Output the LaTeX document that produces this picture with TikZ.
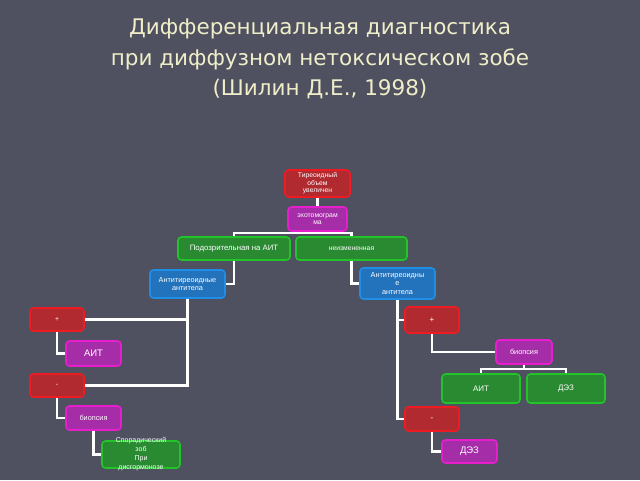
\documentclass[tikz,border=0pt]{standalone}
\usepackage{fontspec}
\setmainfont{Liberation Sans}
\newfontfamily\titlefont{DejaVu Sans}
\definecolor{bgc}{HTML}{4F5161}
\definecolor{titlec}{HTML}{F0EEC8}
\definecolor{redf}{HTML}{B02A30}
\definecolor{redd}{HTML}{EE1C22}
\definecolor{magf}{HTML}{A52DA8}
\definecolor{magd}{HTML}{E61ECC}
\definecolor{grnf}{HTML}{2A8A32}
\definecolor{grnd}{HTML}{22C42A}
\definecolor{bluf}{HTML}{2272BC}
\definecolor{blud}{HTML}{1E8EE6}
\begin{document}
\begin{tikzpicture}[x=1pt,y=-1pt,
  box/.style={rounded corners=3.5pt, line width=1.6pt, inner sep=0pt, text=white, align=center, font=\fontsize{6.8}{7.6}\selectfont},
  redbox/.style={box, fill=redf, draw=redd},
  magbox/.style={box, fill=magf, draw=magd},
  grnbox/.style={box, fill=grnf, draw=grnd},
  blubox/.style={box, fill=bluf, draw=blud},
  conn/.style={draw=white, line width=2.2pt}]
\fill[bgc] (0,0) rectangle (640,480);
\useasboundingbox (0,0) rectangle (640,480);
\node[text=titlec, align=center, font=\titlefont\fontsize{21.5}{30.5}\selectfont] (title) at (320,59) {Дифференциальная диагностика\\при диффузном нетоксическом зобе\\(Шилин Д.Е., 1998)};
% nodes
\node[redbox, minimum width=65, minimum height=27] (n1) at (317.5,183.5) {Тиреоидный\\объем\\увеличен};
\node[magbox, minimum width=59, minimum height=24] (n2) at (317.5,219) {эхотомограм\\ма};
\node[grnbox, minimum width=112, minimum height=23, font=\fontsize{7.8}{9}\selectfont] (n3) at (234,248.5) {Подозрительная на АИТ};
\node[grnbox, minimum width=111, minimum height=23] (n4) at (351.5,248.5) {неизмененная};
\node[blubox, minimum width=75, minimum height=28, font=\fontsize{7.3}{8.5}\selectfont] (n5) at (187.5,284) {Антитиреоидные\\антитела};
\node[blubox, minimum width=75, minimum height=31, font=\fontsize{7.3}{8.5}\selectfont] (n6) at (397.5,283.5) {Антитиреоидны\\е\\антитела};
\node[redbox, minimum width=54, minimum height=23] (n7) at (57,319.5) {+};
\node[magbox, minimum width=55, minimum height=25, font=\fontsize{9.5}{11}\selectfont] (n8) at (93.5,353.5) {АИТ};
\node[redbox, minimum width=54, minimum height=23] (n9) at (57,385.5) {-};
\node[magbox, minimum width=55, minimum height=24, font=\fontsize{7.3}{8}\selectfont] (n10) at (93.5,418) {биопсия};
\node[grnbox, minimum width=78, minimum height=27] (n11) at (141,454.5) {};
\node[text=white, align=center, font=\fontsize{7}{9}\selectfont] (n11t) at (n11) {Спорадический\\зоб\\При\\дисгормонозе};
\node[redbox, minimum width=54, minimum height=26, font=\fontsize{8}{9}\selectfont] (n12) at (432,320) {+};
\node[magbox, minimum width=56, minimum height=24, font=\fontsize{7.3}{8}\selectfont] (n13) at (524,352) {биопсия};
\node[grnbox, minimum width=78, minimum height=29, font=\fontsize{8}{9}\selectfont] (n14) at (481,388.5) {АИТ};
\node[grnbox, minimum width=78, minimum height=29, font=\fontsize{8}{9}\selectfont] (n15) at (566,388.5) {ДЭЗ};
\node[redbox, minimum width=54, minimum height=24, font=\fontsize{8}{9}\selectfont] (n16) at (432,419) {-};
\node[magbox, minimum width=55, minimum height=23, font=\fontsize{9.5}{11}\selectfont] (n17) at (469.5,451.5) {ДЭЗ};
% connectors
\coordinate (j1) at (317.5,234);
\coordinate (j2) at (524,370);
\draw[conn] (n1) -- (n2);
\draw[conn] (n2) -- (j1);
\draw[conn] (n3.north) -- ++(0,-3.5) -| (n4.north);
\draw[conn] (n3.south) |- (n5.east);
\draw[conn] (n4.south) |- (n6.west);
\draw[conn] (n5.south) |- (n7.east);
\draw[conn] (n5.south) |- (n9.east);
\draw[conn] (n7.south) |- (n8.west);
\draw[conn] (n9.south) |- (n10.west);
\draw[conn] (n10.south) |- (n11.west);
\draw[conn] (n6.south) |- (n12.west);
\draw[conn] (n6.south) |- (n16.west);
\draw[conn] (n12.south) |- (n13.west);
\draw[conn] (n13) -- (j2);
\draw[conn] (n14.north) -- ++(0,-4) -| (n15.north);
\draw[conn] (n16.south) |- (n17.west);
\end{tikzpicture}
\end{document}
